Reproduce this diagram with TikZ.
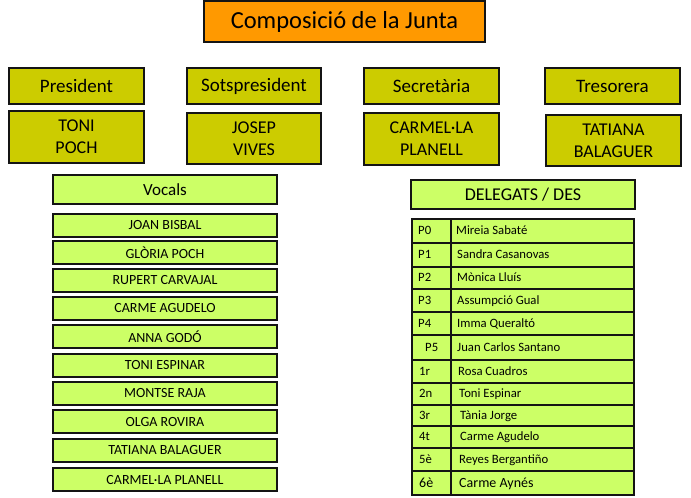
\documentclass[tikz,border=0pt]{standalone}
\usepackage{fontspec}
\setmainfont{Carlito}
\definecolor{titleorange}{RGB}{255,153,0}
\definecolor{olivebox}{RGB}{204,204,0}
\definecolor{limebox}{RGB}{204,255,102}
\definecolor{inkdark}{RGB}{20,20,20}
\tikzset{
  titlebox/.style={draw=inkdark, line width=2pt, fill=titleorange, inner sep=0pt, font=\fontsize{24.5}{28}\selectfont},
  rolebox/.style={draw=inkdark, line width=2pt, fill=olivebox, inner sep=0pt, font=\fontsize{19}{22}\selectfont},
  namebox/.style={draw=inkdark, line width=2pt, fill=olivebox, inner sep=0pt, align=center, font=\fontsize{18}{22}\selectfont},
  vocalhead/.style={draw=inkdark, line width=2pt, fill=limebox, inner sep=0pt, font=\fontsize{17}{20}\selectfont},
  vocalbox/.style={draw=inkdark, line width=2pt, fill=limebox, inner sep=0pt, font=\fontsize{14}{16}\selectfont},
  delhead/.style={draw=inkdark, line width=2pt, fill=limebox, inner sep=0pt, font=\fontsize{18}{20}\selectfont},
  cellbox/.style={draw=inkdark, line width=2pt, fill=limebox, inner sep=0pt, anchor=north west},
  celltext/.style={inner sep=0pt, anchor=base west, font=\fontsize{12.7}{15}\selectfont},
}
\begin{document}
\begin{tikzpicture}[x=1pt,y=-1pt]
\useasboundingbox (0,0) rectangle (691,498);
% title
\node[titlebox, minimum width=281, minimum height=41] (title) at (344.5,21.5) {Composició de la Junta};
% roles
\node[rolebox, minimum width=135, minimum height=36] (pres) at (76.5,86) {President};
\node[rolebox, minimum width=134, minimum height=36] (sots) at (254,86) {Sotspresident};
\node[rolebox, minimum width=135, minimum height=36] (secr) at (431.5,86) {Secretària};
\node[rolebox, minimum width=135, minimum height=36] (treso) at (612.5,86) {Tresorera};
% names
\node[namebox, minimum width=135, minimum height=52] (presn) at (76.5,137) {TONI\\POCH};
\node[namebox, minimum width=134, minimum height=51] (sotsn) at (254,138.5) {JOSEP\\VIVES};
\node[namebox, minimum width=135, minimum height=52] (secrn) at (431.5,139) {CARMEL·LA\\PLANELL};
\node[namebox, minimum width=135, minimum height=51] (treson) at (613.5,140.5) {TATIANA\\BALAGUER};
% vocals
\node[vocalhead, minimum width=224, minimum height=29] (vocals) at (165,189.5) {Vocals};
\foreach \yy/\nm [count=\k] in {225/JOAN BISBAL, 252.5/GLÒRIA POCH, 280.5/RUPERT CARVAJAL, 308.5/CARME AGUDELO, 336.5/ANNA GODÓ, 365/TONI ESPINAR, 393/MONTSE RAJA, 421.5/OLGA ROVIRA, 450.5/TATIANA BALAGUER, 479.5/CARMEL·LA PLANELL}
  \node[vocalbox, minimum width=224, minimum height=23] (v\k) at (165,\yy) {\nm};
% delegates
\node[delhead, minimum width=224, minimum height=29] (delegats) at (523,194.5) {DELEGATS / DES};
\foreach \tp/\bt/\lb/\nm/\xl/\xn [count=\k] in {
  218/242/P0/Mireia Sabaté/418/456,
  242/266/P1/Sandra Casanovas/418/457,
  266/288/P2/Mònica Lluís/418/457,
  288/311/P3/Assumpció Gual/418/457,
  311/334/P4/Imma Queraltó/418/457,
  334/359/P5/Juan Carlos Santano/425/457,
  359/382/1r/Rosa Cuadros/419/458,
  382/404/2n/Toni Espinar/419/459,
  404/425/3r/Tània Jorge/419/460,
  425/447/4t/Carme Agudelo/419/460,
  447/470/5è/Reyes Bergantiño/419/459}
{
  \node[cellbox, minimum width=39, minimum height={\bt-\tp}] (dl\k) at (411,\tp) {};
  \node[cellbox, minimum width=183, minimum height={\bt-\tp}] (dn\k) at (450,\tp) {};
  \node[celltext] (tl\k) at (\xl,{(\tp+\bt)/2+4.5}) {\lb};
  \node[celltext] (tn\k) at (\xn,{(\tp+\bt)/2+4.5}) {\nm};
}
\node[cellbox, minimum width=39, minimum height=24] (dl12) at (411,470) {};
\node[cellbox, minimum width=183, minimum height=24] (dn12) at (450,470) {};
\node[celltext, font=\fontsize{14}{16}\selectfont] (tl12) at (419,487) {6è};
\node[celltext, font=\fontsize{14}{16}\selectfont] (tn12) at (459,487) {Carme Aynés};
\end{tikzpicture}
\end{document}
